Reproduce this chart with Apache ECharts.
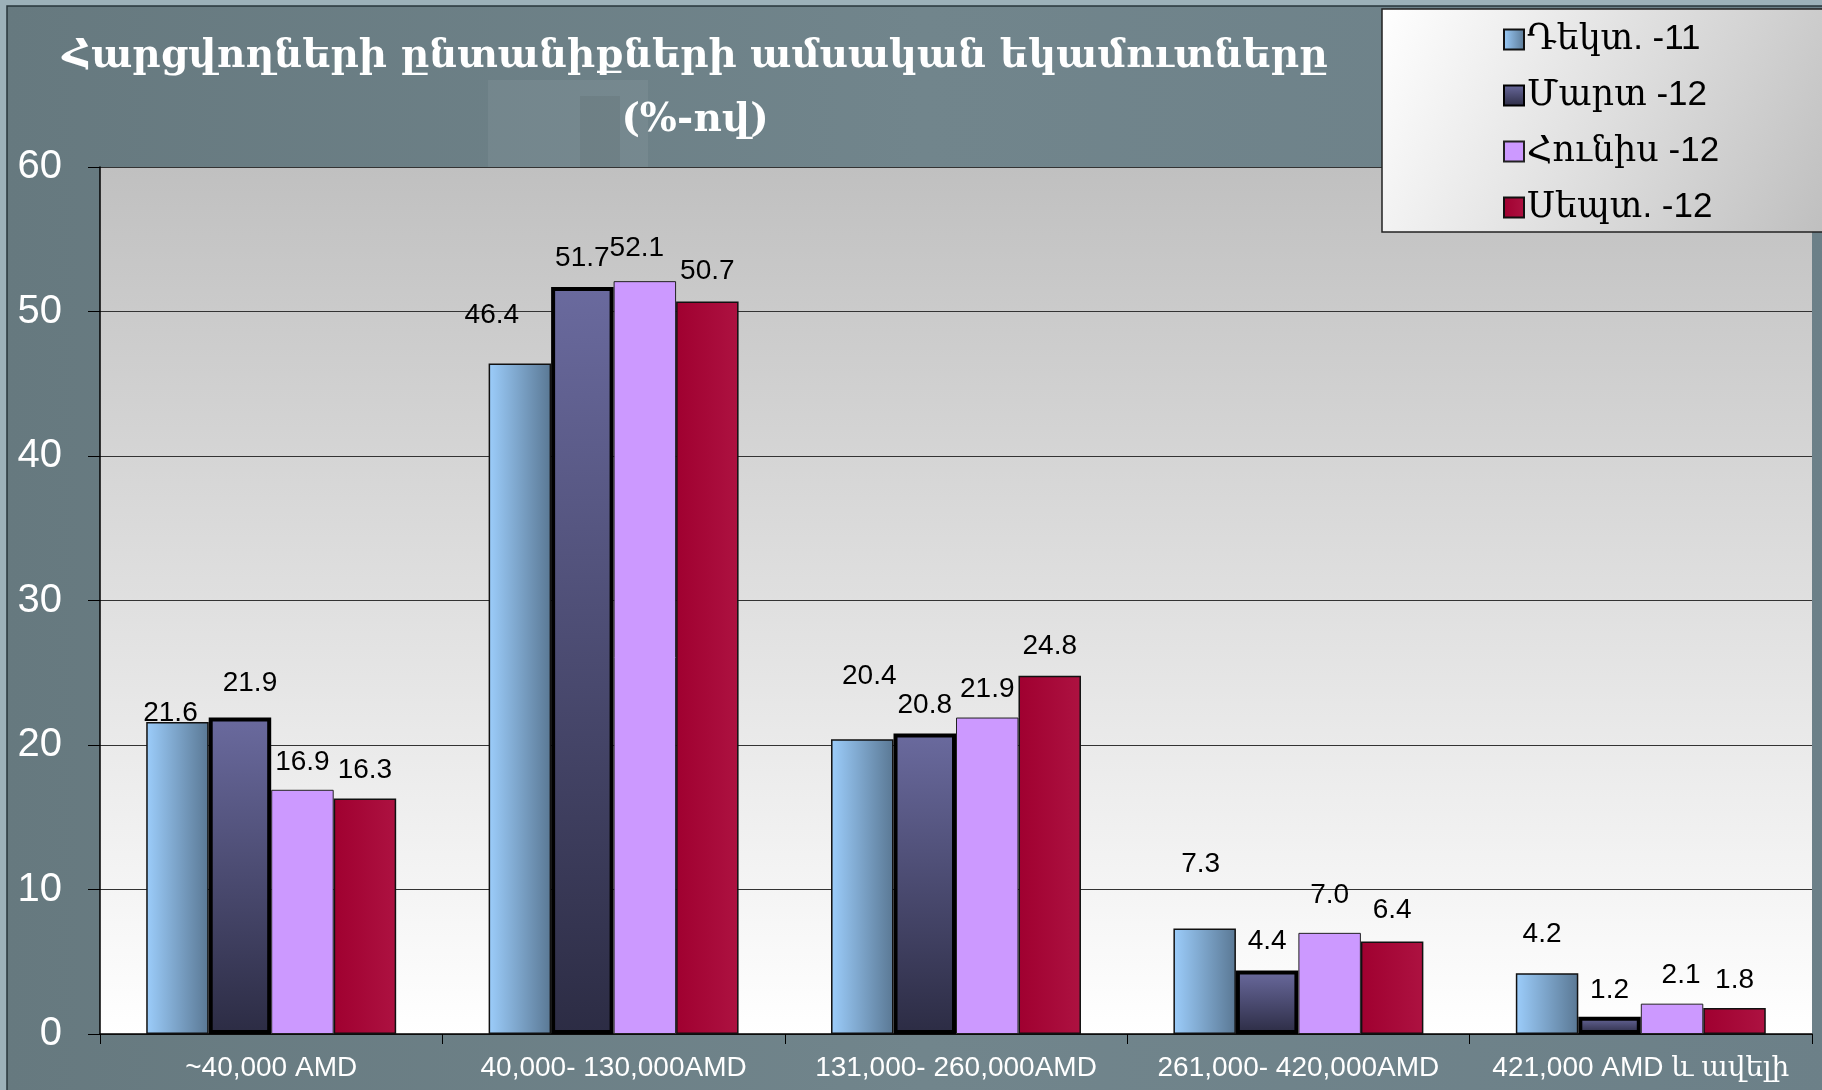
<!DOCTYPE html>
<html>
<head>
<meta charset="utf-8">
<script src="https://cdn.jsdelivr.net/npm/echarts@6/dist/echarts.min.js"></script>
<style>
  html, body { margin: 0; padding: 0; }
  #chart { width: 1822px; height: 1090px; }
</style>
</head>
<body>
<div id="chart"></div>
<script>
const categories = ['~40,000 AMD', '40,000- 130,000AMD', '131,000- 260,000AMD', '261,000- 420,000AMD', '421,000 AMD և ավելի'];
const seriesNames = ['Դեկտ. -11', 'Մարտ -12', 'Հունիս -12', 'Սեպտ. -12'];
const dec11 = [21.6, 46.4, 20.4, 7.3, 4.2];
const mar12 = [21.9, 51.7, 20.8, 4.4, 1.2];
const jun12 = [16.9, 52.1, 21.9, 7.0, 2.1];
const sep12 = [16.3, 50.7, 24.8, 6.4, 1.8];
const yTicks = { min: 0, max: 60, interval: 10 };

// hand-placed label nudges, like the original slide
const labelNudge = [
  [[-7, 19], [-28, -20], [7, -35], [-4, -36], [-5, -11]],
  [[10, -6], [0, -1], [0, 0], [0, -1], [0, 2]],
  [[0, 0], [-8, -5], [0, 0], [0, -10], [9, 0]],
  [[0, 0], [0, -2], [0, -1], [0, -3], [0, 0]]
];

const lbl = '"Liberation Sans", Arial, "DejaVu Sans", sans-serif';
const arm = '"Liberation Sans", Arial, "DejaVu Serif", serif';

const barStyles = [
  {
    color: new echarts.graphic.LinearGradient(0, 0, 1, 0, [
      { offset: 0, color: '#9ccdfb' },
      { offset: 1, color: '#5a7894' }
    ]),
    borderColor: '#111', borderWidth: 1.5
  },
  {
    color: new echarts.graphic.LinearGradient(0, 0, 0, 1, [
      { offset: 0, color: '#6a6a9e' },
      { offset: 1, color: '#2c2c44' }
    ]),
    borderColor: '#000', borderWidth: 4
  },
  { color: '#cc99ff', borderColor: '#222', borderWidth: 1 },
  {
    color: new echarts.graphic.LinearGradient(0, 0, 1, 0, [
      { offset: 0, color: '#a00030' },
      { offset: 1, color: '#ad1241' }
    ]),
    borderColor: '#111', borderWidth: 1.5
  }
];

const allValues = [dec11, mar12, jun12, sep12];

const series = allValues.map((vals, s) => ({
  name: seriesNames[s],
  type: 'bar',
  barGap: '0%',
  barCategoryGap: '27%',
  itemStyle: barStyles[s],
  label: {
    show: true,
    position: 'top',
    distance: 14,
    color: '#000',
    fontSize: 28,
    fontFamily: lbl,
    formatter: p => p.value.toFixed(1)
  },
  data: vals.map((v, i) => ({ value: v, label: { offset: labelNudge[s][i] } }))
}));

const chart = echarts.init(document.getElementById('chart'));
chart.setOption({
  backgroundColor: '#9cb1b9',
  animation: false,
  graphic: [
    {
      type: 'rect', z: -10, silent: true,
      shape: { x: 7, y: 6, width: 1830, height: 1100 },
      style: {
        fill: new echarts.graphic.LinearGradient(0, 0, 1, 0, [
          { offset: 0, color: '#66797f' },
          { offset: 0.5, color: '#71858c' },
          { offset: 1, color: '#6c8088' }
        ]),
        stroke: '#27363b', lineWidth: 1.5
      }
    },
    {
      type: 'rect', z: -9, silent: true,
      shape: { x: 488, y: 80, width: 160, height: 88 },
      style: { fill: 'rgba(255,255,255,0.06)' }
    },
    {
      type: 'rect', z: -9, silent: true,
      shape: { x: 580, y: 96, width: 40, height: 72 },
      style: { fill: 'rgba(0,0,0,0.06)' }
    },
    {
      type: 'rect', z: 5, silent: true,
      shape: { x: 1382, y: 9, width: 460, height: 223 },
      style: {
        fill: new echarts.graphic.LinearGradient(0, 0, 1, 1, [
          { offset: 0, color: '#ffffff' },
          { offset: 1, color: '#bdbdbd' }
        ]),
        stroke: '#222', lineWidth: 1.5
      }
    }
  ],
  title: {
    text: 'Հարցվողների ընտանիքների ամսական եկամուտները\n(%-ով)',
    left: 690,
    top: 20,
    textAlign: 'center',
    textStyle: {
      color: '#ffffff',
      fontSize: 39,
      fontWeight: 'bold',
      fontFamily: '"DejaVu Serif", serif',
      lineHeight: 64
    }
  },
  legend: {
    orient: 'vertical',
    left: 1503,
    top: 21,
    z: 6,
    itemWidth: 20,
    itemHeight: 20,
    itemGap: 19,
    icon: 'rect',
    padding: 0,
    textStyle: { color: '#000', fontSize: 35, fontFamily: arm, lineHeight: 37, padding: [0, 0, 0, -2] },
    data: seriesNames
  },
  grid: { left: 100, right: 10, top: 167, bottom: 56 },
  xAxis: {
    type: 'category',
    data: categories,
    axisLine: { lineStyle: { color: '#000', width: 1.5 } },
    axisTick: { show: true, length: 10, lineStyle: { color: '#000' } },
    axisLabel: { color: '#ffffff', fontSize: 28, fontFamily: arm, margin: 20, interval: 0 }
  },
  yAxis: {
    type: 'value',
    min: yTicks.min,
    max: yTicks.max,
    interval: yTicks.interval,
    axisLine: { show: true, lineStyle: { color: '#000', width: 1.5 } },
    axisTick: { show: true, length: 12, lineStyle: { color: '#000' } },
    axisLabel: { color: '#ffffff', fontSize: 40, fontFamily: lbl, margin: 38 },
    splitLine: { lineStyle: { color: '#333', width: 1 } }
  },
  series: series
});

// plot background gradient (grey at top to white at bottom)
const grid = chart.getModel().getComponent('grid').coordinateSystem.getRect();
chart.setOption({
  graphic: [
    {}, {}, {}, {},
    {
      type: 'rect', z: -5, silent: true,
      shape: { x: grid.x, y: grid.y, width: grid.width, height: grid.height },
      style: {
        fill: new echarts.graphic.LinearGradient(0, 0, 0, 1, [
          { offset: 0, color: '#c0c0c0' },
          { offset: 1, color: '#ffffff' }
        ])
      }
    }
  ]
});
</script>
</body>
</html>
